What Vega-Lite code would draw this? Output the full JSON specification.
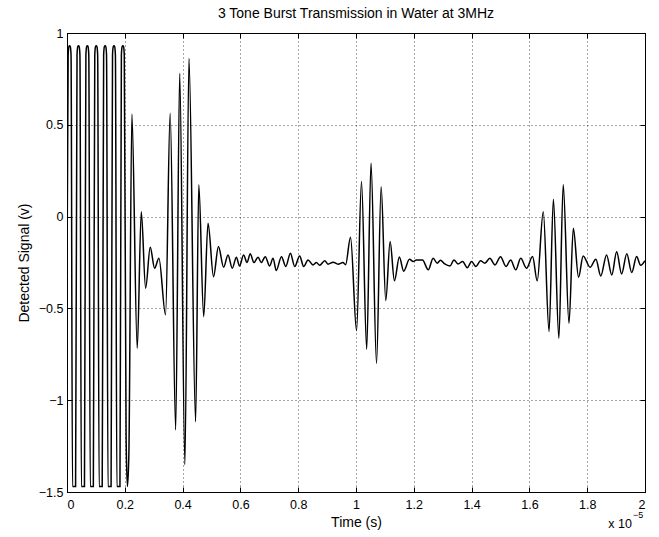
{
  "$schema": "https://vega.github.io/schema/vega-lite/v6.json",
  "width": 578,
  "height": 459,
  "autosize": {"type": "none"},
  "padding": {"left": 67, "top": 33, "right": 14, "bottom": 45},
  "background": "white",
  "config": {
    "font": "Liberation Sans",
    "view": {"stroke": "#000", "strokeWidth": 1},
    "axis": {
      "labelFont": "Liberation Sans", "labelFontSize": 12.5, "labelColor": "#000",
      "titleFont": "Liberation Sans", "titleFontSize": 14, "titleFontWeight": "normal", "titleColor": "#000",
      "domainColor": "#000", "tickColor": "#000", "gridColor": "#000", "gridDash": [1, 3], "gridOpacity": 0.7,
      "tickSize": -5
    }
  },
  "title": {"text": "3 Tone Burst Transmission in Water at 3MHz", "fontSize": 14, "fontWeight": "normal", "font": "Liberation Sans", "color": "#000", "offset": 6},
  "layer": [
    {
      "data": {"values": [
        {"t": 0, "v": -0.3}, {"t": 0.004, "v": 0.88}, {"t": 0.0065, "v": 0.925}, {"t": 0.009, "v": 0.93}, {"t": 0.0115, "v": 0.925}, {"t": 0.014, "v": 0.88}, {"t": 0.019, "v": -1.47}, {"t": 0.0297, "v": -1.47},
        {"t": 0.0347, "v": 0.88}, {"t": 0.0372, "v": 0.925}, {"t": 0.0397, "v": 0.93}, {"t": 0.0422, "v": 0.925}, {"t": 0.0447, "v": 0.88}, {"t": 0.0497, "v": -1.47}, {"t": 0.0604, "v": -1.47},
        {"t": 0.0654, "v": 0.88}, {"t": 0.0679, "v": 0.925}, {"t": 0.0704, "v": 0.93}, {"t": 0.0729, "v": 0.925}, {"t": 0.0754, "v": 0.88}, {"t": 0.0804, "v": -1.47}, {"t": 0.0911, "v": -1.47},
        {"t": 0.0961, "v": 0.88}, {"t": 0.0986, "v": 0.925}, {"t": 0.1011, "v": 0.93}, {"t": 0.1036, "v": 0.925}, {"t": 0.1061, "v": 0.88}, {"t": 0.1111, "v": -1.47}, {"t": 0.1218, "v": -1.47},
        {"t": 0.1268, "v": 0.88}, {"t": 0.1293, "v": 0.925}, {"t": 0.1318, "v": 0.93}, {"t": 0.1343, "v": 0.925}, {"t": 0.1368, "v": 0.88}, {"t": 0.1418, "v": -1.47}, {"t": 0.1525, "v": -1.47},
        {"t": 0.1575, "v": 0.88}, {"t": 0.16, "v": 0.925}, {"t": 0.1625, "v": 0.93}, {"t": 0.165, "v": 0.925}, {"t": 0.1675, "v": 0.88}, {"t": 0.1725, "v": -1.47}, {"t": 0.1832, "v": -1.47},
        {"t": 0.1882, "v": 0.88}, {"t": 0.1907, "v": 0.925}, {"t": 0.1932, "v": 0.93}, {"t": 0.1957, "v": 0.925}, {"t": 0.1982, "v": 0.88},
        {"t": 0.2045, "v": -1.2}, {"t": 0.209, "v": -1.47}, {"t": 0.214, "v": -1.3},
        {"t": 0.2245, "v": 0.559}, {"t": 0.243, "v": -0.717}, {"t": 0.257, "v": 0.027}, {"t": 0.272, "v": -0.39}, {"t": 0.288, "v": -0.167}, {"t": 0.303, "v": -0.281}, {"t": 0.318, "v": -0.227},
        {"t": 0.341, "v": -0.535}, {"t": 0.357, "v": 0.563}, {"t": 0.376, "v": -1.162}, {"t": 0.39, "v": 0.781}, {"t": 0.408, "v": -1.352}, {"t": 0.422, "v": 0.862}, {"t": 0.445, "v": -1.117},
        {"t": 0.456, "v": 0.173}, {"t": 0.473, "v": -0.545}, {"t": 0.488, "v": -0.036}, {"t": 0.507, "v": -0.327}, {"t": 0.524, "v": -0.163}, {"t": 0.542, "v": -0.276}, {"t": 0.557, "v": -0.209},
        {"t": 0.572, "v": -0.281}, {"t": 0.586, "v": -0.221}, {"t": 0.597, "v": -0.269}, {"t": 0.611, "v": -0.209}, {"t": 0.623, "v": -0.25}, {"t": 0.634, "v": -0.203}, {"t": 0.647, "v": -0.25},
        {"t": 0.661, "v": -0.221}, {"t": 0.672, "v": -0.25}, {"t": 0.686, "v": -0.218}, {"t": 0.701, "v": -0.269}, {"t": 0.713, "v": -0.227}, {"t": 0.724, "v": -0.294}, {"t": 0.742, "v": -0.218},
        {"t": 0.757, "v": -0.272}, {"t": 0.773, "v": -0.2}, {"t": 0.788, "v": -0.272}, {"t": 0.805, "v": -0.214}, {"t": 0.819, "v": -0.272}, {"t": 0.834, "v": -0.236}, {"t": 0.851, "v": -0.263},
        {"t": 0.863, "v": -0.25}, {"t": 0.874, "v": -0.265}, {"t": 0.892, "v": -0.24}, {"t": 0.903, "v": -0.259}, {"t": 0.921, "v": -0.248}, {"t": 0.938, "v": -0.259}, {"t": 0.955, "v": -0.25},
        {"t": 0.964, "v": -0.262},
        {"t": 0.981, "v": -0.112}, {"t": 1.002, "v": -0.621}, {"t": 1.019, "v": 0.191}, {"t": 1.037, "v": -0.722}, {"t": 1.052, "v": 0.291}, {"t": 1.071, "v": -0.799}, {"t": 1.087, "v": 0.163},
        {"t": 1.103, "v": -0.457}, {"t": 1.118, "v": -0.136}, {"t": 1.133, "v": -0.35}, {"t": 1.15, "v": -0.22}, {"t": 1.165, "v": -0.297}, {"t": 1.185, "v": -0.232}, {"t": 1.198, "v": -0.245},
        {"t": 1.209, "v": -0.236}, {"t": 1.23, "v": -0.236}, {"t": 1.25, "v": -0.29}, {"t": 1.267, "v": -0.227}, {"t": 1.281, "v": -0.254}, {"t": 1.292, "v": -0.238}, {"t": 1.307, "v": -0.258},
        {"t": 1.325, "v": -0.269}, {"t": 1.339, "v": -0.236}, {"t": 1.353, "v": -0.258}, {"t": 1.369, "v": -0.245}, {"t": 1.385, "v": -0.278}, {"t": 1.4, "v": -0.245}, {"t": 1.415, "v": -0.272},
        {"t": 1.431, "v": -0.241}, {"t": 1.446, "v": -0.254}, {"t": 1.463, "v": -0.227}, {"t": 1.481, "v": -0.263}, {"t": 1.5, "v": -0.218}, {"t": 1.519, "v": -0.272}, {"t": 1.535, "v": -0.236},
        {"t": 1.553, "v": -0.29}, {"t": 1.57, "v": -0.227}, {"t": 1.59, "v": -0.281}, {"t": 1.611, "v": -0.218}, {"t": 1.627, "v": -0.35},
        {"t": 1.648, "v": 0.027}, {"t": 1.668, "v": -0.626}, {"t": 1.683, "v": 0.095}, {"t": 1.702, "v": -0.662}, {"t": 1.717, "v": 0.173}, {"t": 1.737, "v": -0.581}, {"t": 1.752, "v": -0.063},
        {"t": 1.77, "v": -0.33}, {"t": 1.786, "v": -0.214}, {"t": 1.81, "v": -0.276}, {"t": 1.83, "v": -0.232}, {"t": 1.847, "v": -0.323}, {"t": 1.867, "v": -0.209}, {"t": 1.885, "v": -0.318},
        {"t": 1.902, "v": -0.191}, {"t": 1.919, "v": -0.312}, {"t": 1.937, "v": -0.203}, {"t": 1.954, "v": -0.305}, {"t": 1.971, "v": -0.218}, {"t": 1.985, "v": -0.265}, {"t": 2.0, "v": -0.24}
      ]},
      "mark": {"type": "line", "color": "#000", "strokeWidth": 1.5, "interpolate": "monotone", "clip": true},
      "encoding": {
        "x": {"field": "t", "type": "quantitative", "scale": {"domain": [0, 2], "nice": false, "zero": false},
              "axis": {"orient": "bottom", "values": [0, 0.2, 0.4, 0.6, 0.8, 1, 1.2, 1.4, 1.6, 1.8, 2], "format": "~g", "labelPadding": 11, "title": "Time (s)", "titlePadding": 5, "grid": true}},
        "y": {"field": "v", "type": "quantitative", "scale": {"domain": [-1.5, 1], "nice": false, "zero": false},
              "axis": {"orient": "left", "values": [-1.5, -1, -0.5, 0, 0.5, 1], "format": "~g", "labelPadding": 9, "title": "Detected Signal (v)", "titlePadding": 7, "grid": true}}
      }
    },
    {
      "data": {"values": [{"label": "x 10"}]},
      "mark": {"type": "text", "align": "right", "baseline": "alphabetic", "dx": -13, "dy": 36, "fontSize": 12.5, "font": "Liberation Sans", "color": "#000"},
      "encoding": {
        "x": {"datum": 2, "type": "quantitative", "scale": {"domain": [0, 2], "nice": false, "zero": false},
              "axis": {"orient": "top", "values": [0, 0.2, 0.4, 0.6, 0.8, 1, 1.2, 1.4, 1.6, 1.8, 2], "labels": false, "grid": false, "title": null}},
        "y": {"datum": -1.5, "type": "quantitative", "scale": {"domain": [-1.5, 1], "nice": false, "zero": false},
              "axis": {"orient": "right", "values": [-1.5, -1, -0.5, 0, 0.5, 1], "labels": false, "grid": false, "title": null}},
        "text": {"field": "label"}
      }
    },
    {
      "data": {"values": [{"label": "−5"}]},
      "mark": {"type": "text", "align": "left", "baseline": "alphabetic", "dx": -12, "dy": 26, "fontSize": 9, "font": "Liberation Sans", "color": "#000"},
      "encoding": {
        "x": {"datum": 2, "type": "quantitative", "axis": null},
        "y": {"datum": -1.5, "type": "quantitative", "axis": null},
        "text": {"field": "label"}
      }
    }
  ],
  "resolve": {"axis": {"x": "independent", "y": "independent"}}
}
